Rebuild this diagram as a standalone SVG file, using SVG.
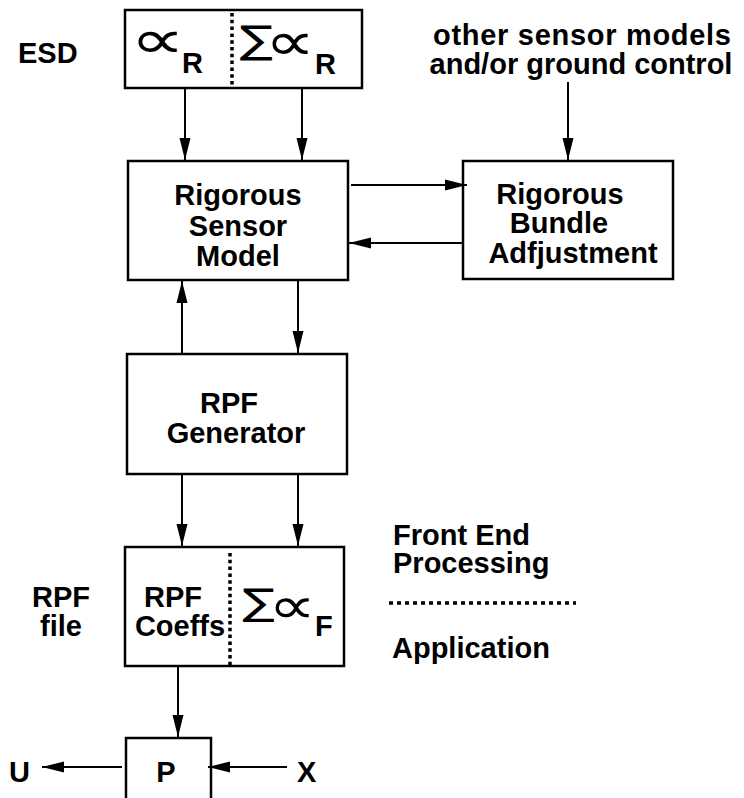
<svg xmlns="http://www.w3.org/2000/svg" width="744" height="798" viewBox="0 0 744 798">
<style>
.t{font-family:"Liberation Sans",Arial,sans-serif;font-weight:bold;font-size:29px;fill:#000}
.m{text-anchor:middle}
.sym{font-family:"DejaVu Sans",sans-serif;fill:#000}
.box{fill:#fff;stroke:#000;stroke-width:2.5}
.ln{fill:none;stroke:#000;stroke-width:2}
.dot{fill:none;stroke:#000;stroke-width:3.5;stroke-dasharray:3.5 3.3}
</style>
<defs>
<marker id="ah" markerUnits="userSpaceOnUse" markerWidth="24" markerHeight="12" refX="22" refY="6" orient="auto">
<path d="M0,0.5 L22,6 L0,11.5 z" fill="#000"/>
</marker>
</defs>
<rect width="744" height="798" fill="#fff"/>
<g id="labels">
<text class="t" x="18" y="63">ESD</text>
<text class="t m" x="582" y="45" textLength="298" lengthAdjust="spacing">other sensor models</text>
<text class="t m" x="581" y="74">and/or ground control</text>
<text class="t m" x="61" y="607">RPF</text>
<text class="t m" x="61" y="636">file</text>
<text class="t" x="393" y="545">Front End</text>
<text class="t" x="393" y="573">Processing</text>
<text class="t" x="392" y="658">Application</text>
<text class="t" x="9" y="782">U</text>
<text class="t" x="297" y="782">X</text>
</g>
<g id="esd">
<rect class="box" x="125" y="10" width="237" height="78"/>
<line class="dot" x1="232" y1="13" x2="232" y2="86"/>
<text class="sym" font-size="54" transform="translate(130.3,58) scale(1.42,1)">∝</text>
<text class="t" x="182" y="73">R</text>
<text class="sym" font-size="38" transform="translate(239.5,52.6) scale(1.3,1)">∑<tspan x="19.6" dy="7.4" font-size="54">∝</tspan></text>
<text class="t" x="315" y="74">R</text>
</g>
<g id="rsm">
<rect class="box" x="128" y="161" width="220" height="119"/>
<text class="t m" x="238" y="205">Rigorous</text>
<text class="t m" x="238" y="236">Sensor</text>
<text class="t m" x="238" y="266">Model</text>
</g>
<g id="rba">
<rect class="box" x="463" y="161" width="210" height="118"/>
<text class="t m" x="560" y="204">Rigorous</text>
<text class="t m" x="559" y="233">Bundle</text>
<text class="t m" x="573" y="263">Adfjustment</text>
</g>
<g id="rpfgen">
<rect class="box" x="127" y="354" width="220" height="120"/>
<text class="t m" x="229" y="413">RPF</text>
<text class="t m" x="236" y="443">Generator</text>
</g>
<g id="rpffile">
<rect class="box" x="125" y="547" width="219" height="119"/>
<line class="dot" x1="230" y1="553" x2="230" y2="666"/>
<text class="t m" x="173" y="607">RPF</text>
<text class="t m" x="180" y="636">Coeffs</text>
<text class="sym" font-size="37" transform="translate(242.5,614.8) scale(1.3,1)">∑<tspan x="20" dy="7.7" font-size="51">∝</tspan></text>
<text class="t" x="315" y="636">F</text>
</g>
<g id="p">
<rect class="box" x="126" y="738" width="85" height="62"/>
<text class="t m" x="166" y="782">P</text>
</g>
<g id="connectors">
<line class="ln" x1="185" y1="88" x2="185" y2="160" marker-end="url(#ah)"/>
<line class="ln" x1="302" y1="88" x2="302" y2="160" marker-end="url(#ah)"/>
<line class="ln" x1="568" y1="82" x2="568" y2="160" marker-end="url(#ah)"/>
<line class="ln" x1="351" y1="185" x2="467" y2="185" marker-end="url(#ah)"/>
<line class="ln" x1="462" y1="243" x2="349" y2="243" marker-end="url(#ah)"/>
<line class="ln" x1="182" y1="353" x2="182" y2="281" marker-end="url(#ah)"/>
<line class="ln" x1="298" y1="281" x2="298" y2="353" marker-end="url(#ah)"/>
<line class="ln" x1="182" y1="475" x2="182" y2="546" marker-end="url(#ah)"/>
<line class="ln" x1="298" y1="475" x2="298" y2="546" marker-end="url(#ah)"/>
<line class="ln" x1="178" y1="666" x2="178" y2="737" marker-end="url(#ah)"/>
<line class="ln" x1="122" y1="767" x2="42" y2="767" marker-end="url(#ah)"/>
<line class="ln" x1="287" y1="767" x2="208" y2="767" marker-end="url(#ah)"/>
<line class="dot" x1="389" y1="603" x2="576" y2="603" style="stroke-dasharray:4 4"/>
</g>
</svg>
